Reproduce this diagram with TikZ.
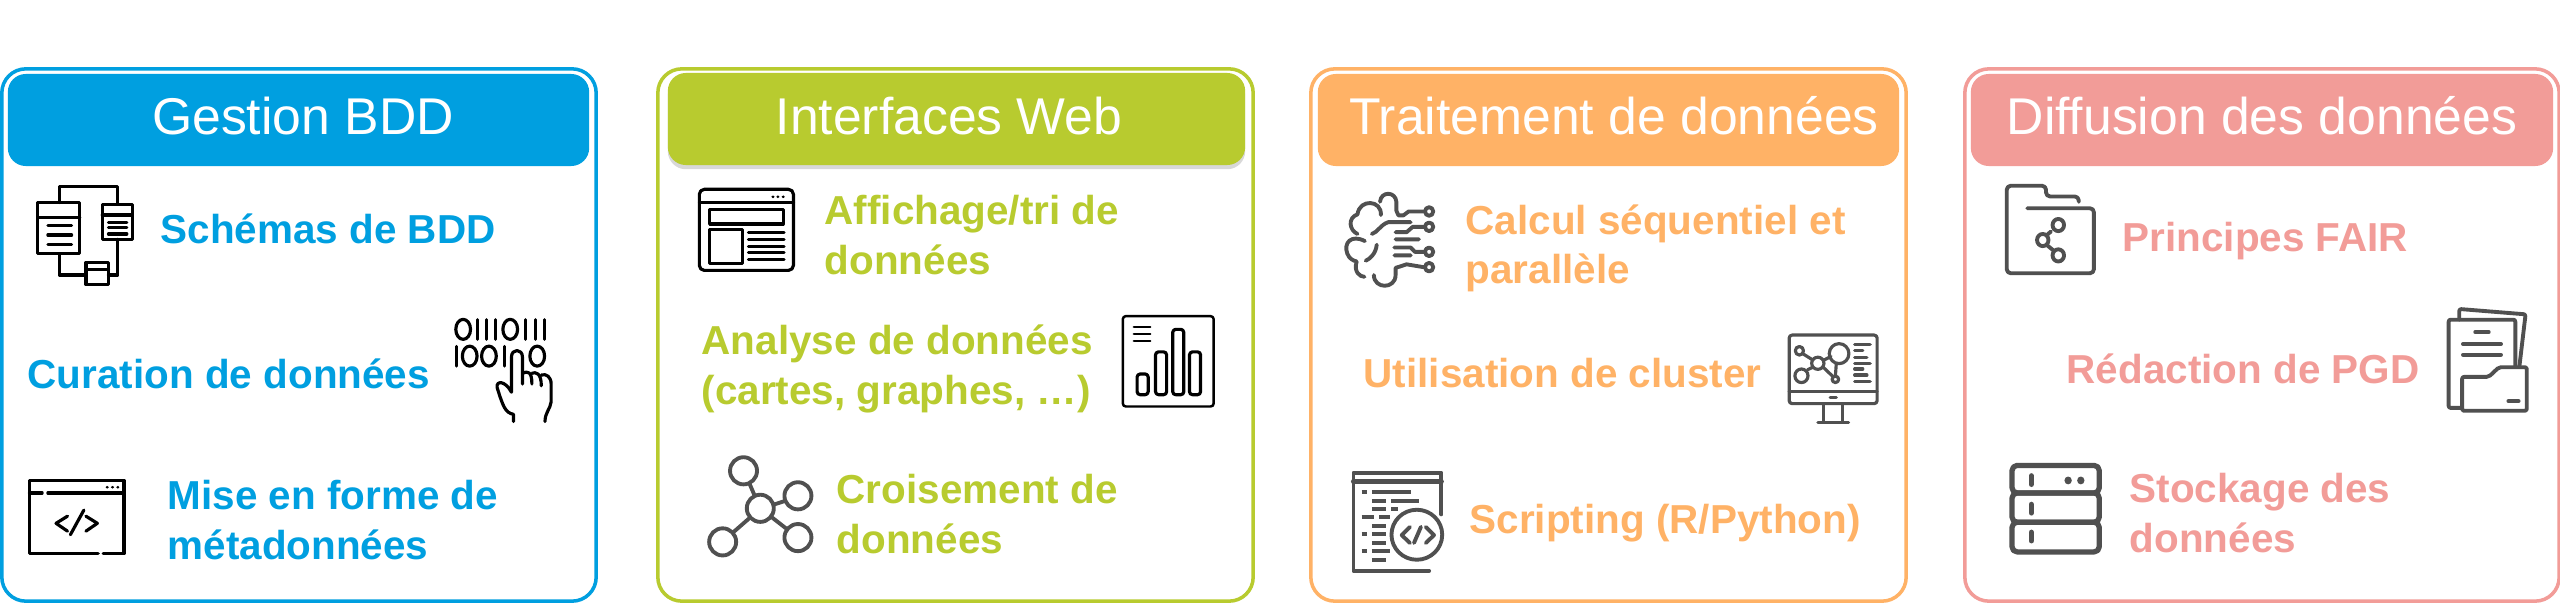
\documentclass[tikz,border=0pt]{standalone}
\usepackage{fontspec}
\setmainfont{Liberation Sans}
\usetikzlibrary{shadows}
\definecolor{bleu}{HTML}{009FE0}
\definecolor{vert}{HTML}{B8CB2F}
\definecolor{orange}{HTML}{FFB266}
\definecolor{rose}{HTML}{F29C98}
\definecolor{gris}{HTML}{505050}

\begin{document}
\begin{tikzpicture}[x=0.01cm,y=-0.01cm,line join=round]
% Styles
\tikzstyle{panel}=[draw,line width=1pt,rounded corners=0.24cm,minimum height=5.32cm,inner sep=0pt]
\tikzstyle{header}=[rounded corners=0.18cm,minimum height=0.92cm,inner sep=0pt]
\tikzstyle{titre}=[text=white,inner sep=0pt,font=\fontsize{14.7}{17}\selectfont]
\tikzstyle{texte}=[anchor=west,align=left,inner sep=0pt,font=\fontsize{11.5}{14}\bfseries\selectfont]
\tikzstyle{icon}=[draw=black,line width=0.9pt,line cap=round]
\tikzstyle{icongris}=[draw=gris,line width=1.1pt,line cap=round]
\tikzstyle{zoomed}=[x=0.004082cm,y=-0.003571cm]

\path[fill=white,use as bounding box] (0,0) rectangle (2560,609);

% draw the panels
\foreach \n/\cx/\w/\hx/\hw/\tx/\col/\nom in {
1/299/5.94/298.5/5.81/303/bleu/Gestion BDD,
2/955.5/5.95/956.5/5.77/949/vert/Interfaces Web,
3/1608.5/5.95/1608.5/5.81/1614/orange/Traitement de données,
4/2262/5.94/2262/5.82/2262/rose/Diffusion des données} {
\node[panel,draw=\col,minimum width=\w cm] (panel\n) at (\cx,335) {};
\ifnum\n=2
\node[header,fill=\col,minimum width=\hw cm,drop shadow={shadow xshift=0pt,shadow yshift=-1.2pt,opacity=.3}] (header\n) at (\hx,119) {};
\else
\node[header,fill=\col,minimum width=\hw cm] (header\n) at (\hx,120) {};
\fi
\node[titre] (titre\n) at (\tx,123) {\strut\nom};
}

% labels
\node[texte,text=bleu] (schemas) at (160,229) {Schémas de BDD};
\node[texte,text=bleu] (curation) at (27,374) {Curation de données};
\node[texte,text=bleu] (mise) at (167,520) {Mise en forme de\\métadonnées};
\node[texte,text=vert] (affichage) at (824,235) {Affichage/tri de\\données};
\node[texte,text=vert] (analyse) at (701,369) {Analyse de données\\(cartes, graphes, …)};
\node[texte,text=vert] (croisement) at (836,514) {Croisement de\\données};
\node[texte,text=orange] (calcul) at (1465,248) {Calcul séquentiel et\\parallèle};
\node[texte,text=orange] (cluster) at (1363,373) {Utilisation de cluster};
\node[texte,text=orange] (scripting) at (1469,523) {Scripting (R/Python)};
\node[texte,text=rose] (fair) at (2122,241) {Principes FAIR};
\node[texte,text=rose] (pgd) at (2066,369) {Rédaction de PGD};
\node[texte,text=rose] (stockage) at (2129,513) {Stockage des\\données};

% icons of panel 1
\begin{scope}[shift={(0,50)},zoomed]
\draw[icon] (92,427) rectangle (195,570) (92,470) -- (195,470);
\foreach \y in {492,518,545} {
\draw[icon] (117,\y) -- (175,\y);
}
\draw[icon] (250,432) rectangle (323,530) (250,462) -- (323,462);
\foreach \y in {482,498,515} {
\draw[icon] (265,\y) -- (310,\y);
}
\draw[icon] (145,427) -- (145,383) -- (288,383) -- (288,432);
\draw[icon] (145,570) -- (145,630) -- (210,630) (265,630) -- (288,630) -- (288,530);
\draw[icon] (210,595) rectangle (265,657) (210,615) -- (265,615);
% binary and hand
\foreach \x in {1132,1247} {
\draw[icon] (\x,782) ellipse (18 and 28);
}
\foreach \x in {1148,1195,1313} {
\draw[icon] (\x,857) ellipse (18 and 28);
}
\foreach \x in {1168,1190,1212,1285,1308,1330} {
\draw[icon] (\x,755) -- (\x,810);
}
\foreach \x in {1115,1232} {
\draw[icon] (\x,830) -- (\x,885);
}
\draw[icon,fill=white] (1255,1040) -- (1255,1020) .. controls (1235,1015) and (1230,1000) .. (1215,945) .. controls (1212,925) and (1235,925) .. (1250,958) -- (1250,860) .. controls (1250,835) and (1277,835) .. (1277,860) -- (1277,935) (1277,905) .. controls (1290,898) and (1300,900) .. (1300,935) (1300,905) .. controls (1310,900) and (1323,905) .. (1323,940) (1323,910) .. controls (1335,905) and (1347,915) .. (1347,935) -- (1347,985) .. controls (1345,1005) and (1332,1015) .. (1332,1040);
% code window
\draw[icon] (240,1410) -- (72,1410) -- (72,1205) -- (303,1205) -- (303,1410) -- (252,1410);
\draw[icon] (72,1240) -- (103,1240) (117,1240) -- (303,1240);
\foreach \x in {262,275,288} {
\fill (\x,1224) ellipse (4 and 4);
}
\draw[icon] (165,1305) -- (137,1325) -- (165,1347) (205,1288) -- (172,1357) (210,1305) -- (238,1325) -- (210,1347);
\end{scope}

% icons of panel 2
\begin{scope}[shift={(640,50)},zoomed]
\draw[icon,rounded corners=0.05cm] (145,390) rectangle (375,617);
\draw[icon] (145,428) -- (375,428);
\foreach \x in {325,337,350} {
\fill (\x,411) ellipse (4 and 4);
}
\draw[icon] (170,447) rectangle (350,487) (170,503) rectangle (250,597);
\foreach \y in {512,530,550,568,587} {
\draw[icon] (265,\y) -- (352,\y);
}
% chart
\draw[icon,line width=0.7pt,rounded corners=0.03cm] (1180,745) rectangle (1402,998);
\foreach \y in {775,795,815} {
\draw[icon,line width=0.7pt] (1207,\y) -- (1247,\y);
}
\foreach \x/\t in {1215/907,1260/845,1302/782,1343/845} {
\draw[icon,rounded corners=0.03cm] (\x,965) -- (\x,\t) -- +(27,0) -- (\x+27,965) -- cycle;
}
% molecule
\foreach \x/\y in {294/1283,253/1178,386/1248,386/1365,202/1377} {
\draw[icongris] (\x,\y) ellipse (33 and 38);
}
\draw[icongris] (268,1215) -- (280,1247) (326,1273) -- (355,1262) (322,1308) -- (360,1342) (268,1310) -- (228,1350);
\end{scope}

% icons of panel 3
\begin{scope}[shift={(1290,50)},zoomed]
\draw[icongris] (327,452) -- (290,452) -- (277,463) -- (265,463) -- (260,450) -- (260,425) .. controls (258,395) and (222,395) .. (220,425);
\draw[icongris] (222,462) .. controls (225,420) and (170,415) .. (165,460) .. controls (140,470) and (145,505) .. (165,515);
\draw[icongris] (183,535) .. controls (150,515) and (130,540) .. (140,570) .. controls (145,585) and (155,590) .. (163,592) .. controls (155,620) and (170,635) .. (182,635);
\draw[icongris] (200,515) .. controls (215,510) and (220,490) .. (240,482) -- (295,482);
\draw[icongris] (327,495) -- (300,495) -- (285,510) -- (258,510) (258,530) -- (315,530) (255,553) -- (295,553) -- (305,565) -- (327,565) (255,575) -- (295,575);
\draw[icongris] (205,630) .. controls (205,670) and (258,670) .. (258,630) -- (258,610) -- (285,600) -- (327,608);
\draw[icongris] (212,545) .. controls (210,570) and (195,585) .. (185,590);
\foreach \y in {452,495,565,608} {
\draw[icongris] (340,\y) ellipse (10 and 12);
}
% monitor
\draw[icongris,line width=.9pt,rounded corners=0.03cm] (1220,798) rectangle (1435,990);
\draw[icongris,line width=.9pt] (1220,955) -- (1435,955) (1320,972) -- (1335,972) (1303,990) -- (1303,1040) (1350,990) -- (1350,1040) (1290,1042) -- (1365,1042);
\foreach \y/\e in {825/1418,842/1400,860/1410,877/1418,893/1400,910/1410,928/1418} {
\draw[icongris,line width=.9pt] (1380,\y) -- (\e,\y);
}
\draw[icongris,line width=.9pt] (1253,850) -- (1278,868) (1265,895) -- (1278,888) (1305,868) -- (1322,858) (1303,888) -- (1325,912) (1335,880) -- (1333,912);
\draw[icongris,line width=.9pt] (1245,842) ellipse (10 and 12) (1290,877) ellipse (15 and 17) (1342,850) ellipse (24 and 28) (1250,912) ellipse (16 and 19) (1333,922) ellipse (8 and 9);
% script window
\draw[icongris] (340,1458) -- (155,1458) -- (155,1183) -- (370,1183) -- (370,1300);
\draw[icongris,line width=1.4pt] (155,1208) -- (370,1208);
\foreach \a/\b/\y in {175/188/1238,200/295/1238,200/235/1262,248/315/1262,200/235/1285,248/265/1285,175/205/1308,218/245/1308,200/235/1332,175/188/1356,200/235/1356,200/235/1380,175/188/1403,200/245/1403,200/235/1427} {
\draw[icongris,line cap=butt] (\a,\y) -- (\b,\y);
}
\draw[icongris] (310,1357) ellipse (62 and 70);
\draw[icongris] (293,1335) -- (273,1358) -- (293,1380) (320,1335) -- (303,1380) (332,1335) -- (352,1358) -- (332,1380);
\end{scope}

% icons of panel 4
\begin{scope}[shift={(1920,50)},zoomed]
\draw[icongris,rounded corners=0.04cm] (262,443) -- (425,443) -- (425,625) -- (212,625) -- (212,380) -- (308,380) -- (308,410) -- (388,410) -- (388,425);
\draw[icongris] (320,508) -- (310,518) (312,548) -- (325,560);
\draw[icongris] (338,490) ellipse (14 and 17) (300,532) ellipse (14 and 17) (338,575) ellipse (14 and 17);
% papers and folder
\draw[icongris,rounded corners=0.02cm] (1318,755) -- (1318,725) -- (1480,740) -- (1465,885);
\draw[icongris,rounded corners=0.02cm] (1322,1002) -- (1292,1002) -- (1292,755) -- (1455,755) -- (1455,885);
\draw[icongris] (1357,790) -- (1390,790) (1327,823) -- (1420,823) (1327,853) -- (1420,853) (1438,983) -- (1463,983);
\draw[icongris,rounded corners=0.02cm] (1325,1010) -- (1325,915) -- (1390,915) -- (1415,888) -- (1483,888) -- (1483,1010) -- cycle;
% server
\foreach \a/\b in {1163/1240,1240/1322,1322/1405} {
\draw[icongris,line width=1.5pt,rounded corners=0.05cm] (225,\a) rectangle (438,\b);
}
\foreach \a/\b in {1192/1216,1272/1296,1350/1374} {
\draw[icongris,line width=1.5pt] (272,\a) -- (272,\b);
}
\foreach \x in {362,393} {
\fill[gris] (\x,1205) ellipse (9 and 11);
}
\end{scope}

\end{tikzpicture}
\end{document}
